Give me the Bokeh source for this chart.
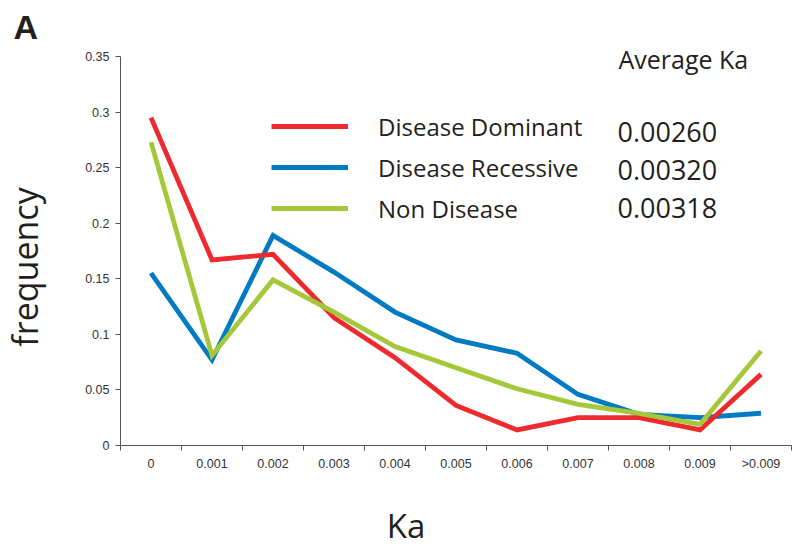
import math
from bokeh.plotting import figure
from bokeh.models import Range1d, FixedTicker, Label, Legend, LegendItem, ColumnDataSource
from bokeh.embed import file_html
from bokeh.resources import INLINE

# ---- data ----
categories = ["0", "0.001", "0.002", "0.003", "0.004", "0.005",
              "0.006", "0.007", "0.008", "0.009", ">0.009"]
dominant = [0.295, 0.167, 0.172, 0.115, 0.079, 0.036, 0.014, 0.025, 0.025, 0.014, 0.064]
recessive = [0.155, 0.077, 0.189, 0.156, 0.120, 0.095, 0.083, 0.046, 0.028, 0.025, 0.029]
non_disease = [0.273, 0.081, 0.149, 0.120, 0.089, 0.070, 0.051, 0.037, 0.029, 0.019, 0.085]
series_names = ["Disease Dominant", "Disease Recessive", "Non Disease"]
average_ka = ["0.00260", "0.00320", "0.00318"]
y_ticks = [0, 0.05, 0.1, 0.15, 0.2, 0.25, 0.3, 0.35]
y_tick_labels = ["0", "0.05", "0.1", "0.15", "0.2", "0.25", "0.3", "0.35"]

RED = "#ED2A2E"
BLUE = "#007AC2"
GREEN = "#A4C839"
TXT = "#231F20"
AX = "#555555"

W, H = 797, 548
# where the axes box sits on the canvas (pixels)
AX_L, AX_R, AX_T, AX_B = 120, 791, 56, 445
n = len(categories)
x_lo, x_hi = -0.5, n - 0.5
y_lo, y_hi = y_ticks[0], y_ticks[-1]
px_x = (AX_R - AX_L) / (x_hi - x_lo)
px_y = (AX_B - AX_T) / (y_hi - y_lo)

xs = list(range(n))
src = ColumnDataSource(dict(x=xs, dom=dominant, rec=recessive, non=non_disease))

p = figure(width=W, height=H, title=None,
           x_range=Range1d(x_lo - AX_L / px_x, x_hi + (W - AX_R) / px_x),
           y_range=Range1d(y_lo - (H - AX_B) / px_y, y_hi + AX_T / px_y),
           output_backend="svg", toolbar_location=None,
           min_border=0)
p.xgrid.visible = False
p.ygrid.visible = False
p.outline_line_color = None
p.background_fill_color = "white"
p.border_fill_color = "white"

lw = 4.8
r_rec = p.line("x", "rec", source=src, line_color=BLUE, line_width=lw, line_join="miter")
r_dom = p.line("x", "dom", source=src, line_color=RED, line_width=lw, line_join="miter")
r_non = p.line("x", "non", source=src, line_color=GREEN, line_width=lw, line_join="miter")

# x axis: labels at category centres, ticks at boundaries
xa = p.xaxis[0]
xa.fixed_location = y_lo
xa.bounds = (x_lo, x_hi)
xa.ticker = FixedTicker(ticks=xs, minor_ticks=[i - 0.5 for i in range(n + 1)])
xa.major_label_overrides = {i: c for i, c in enumerate(categories)}
xa.major_tick_out = 0
xa.major_tick_in = 0
xa.minor_tick_out = 5
xa.minor_tick_in = 0
xa.minor_tick_line_color = AX
xa.axis_line_color = AX
xa.major_label_standoff = 6
xa.major_label_text_font = "Liberation Sans"
xa.major_label_text_font_size = "12.5px"
xa.major_label_text_color = "#333333"

ya = p.yaxis[0]
ya.fixed_location = x_lo
ya.bounds = (y_lo, y_hi)
ya.ticker = FixedTicker(ticks=y_ticks, minor_ticks=[])
ya.major_label_overrides = {t: l for t, l in zip(y_ticks, y_tick_labels)}
ya.major_tick_out = 5
ya.major_tick_in = 0
ya.major_tick_line_color = AX
ya.axis_line_color = AX
ya.major_label_standoff = 6
ya.major_label_text_font = "Liberation Sans"
ya.major_label_text_font_size = "12.5px"
ya.major_label_text_color = "#333333"

# legend (location in screen px from the frame's bottom-left)
legend = Legend(items=[LegendItem(label=series_names[0], renderers=[r_dom]),
                       LegendItem(label=series_names[1], renderers=[r_rec]),
                       LegendItem(label=series_names[2], renderers=[r_non])],
                location=(271, H - 225), orientation="vertical",
                glyph_width=77, glyph_height=34, label_height=34, label_standoff=30,
                spacing=7, padding=0, margin=0,
                border_line_alpha=0, background_fill_alpha=0,
                label_text_font="Open Sans", label_text_font_size="24px",
                label_text_color=TXT)
p.add_layout(legend)


def lab(text, cx, cy, size, font="Open Sans", **kw):
    # cx, cy: canvas position (from top-left) of the text box's middle
    p.add_layout(Label(text=text, x=cx, y=H - cy, x_units="screen", y_units="screen",
                       text_font=font, text_font_size=f"{size}px", text_color=TXT,
                       text_baseline="middle", **kw))


lab("Average Ka", 618, 68.3 - 0.388 * 25, 25)
for v, base in zip(average_ka, [141.7, 180.0, 218.0]):
    lab(v, 617, base - 0.388 * 27, 27)
lab("A", 13, 38 - 0.347 * 34, 34, font="Liberation Sans", text_font_style="bold")
lab("frequency", 24, 266.5, 34, angle=math.pi / 2, text_align="center")
lab("Ka", 405.5, 525, 33, text_align="center")

open("out.html", "w").write(file_html(p, INLINE))
